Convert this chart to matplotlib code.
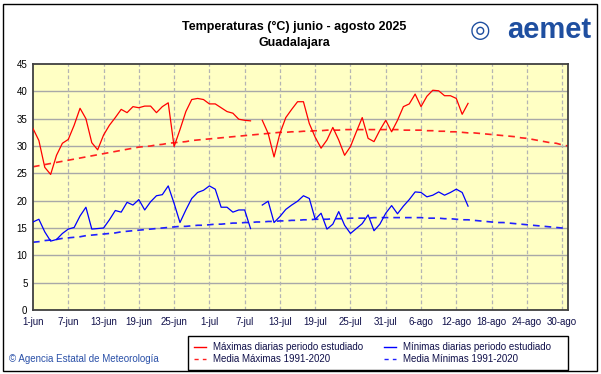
import numpy as np
import matplotlib
matplotlib.use("Agg")
import matplotlib.pyplot as plt
from matplotlib.patches import Rectangle
from matplotlib.lines import Line2D

plt.rcParams['font.family'] = ['Liberation Sans', 'DejaVu Sans']

tick_labels = ['1-jun', '7-jun', '13-jun', '19-jun', '25-jun', '1-jul', '7-jul', '13-jul',
               '19-jul', '25-jul', '31-jul', '6-ago', '12-ago', '18-ago', '24-ago', '30-ago']

max_daily = [33.2, 31.0, 26.1, 24.8, 28.3, 30.5, 31.2, 33.8, 36.9, 35.0,
             30.6, 29.3, 32.0, 33.8, 35.2, 36.7, 36.1, 37.2, 37.0, 37.3,
             37.3, 36.1, 37.2, 37.9, 29.9, 33.0, 36.3, 38.5, 38.7, 38.5,
             37.7, 37.7, 37.0, 36.3, 36.0, 34.9, 34.7, 34.6, np.nan, 34.7,
             32.3, 28.0, 32.3, 35.2, 36.7, 38.1, 38.1, 34.1, 31.6, 29.6,
             31.1, 33.4, 31.1, 28.3, 29.9, 32.6, 35.2, 31.4, 30.8, 32.9,
             34.7, 32.6, 34.7, 37.2, 37.7, 39.5, 37.2, 39.1, 40.2, 40.1,
             39.2, 39.2, 38.7, 35.8, 37.8]

min_daily = [16.1, 16.6, 14.3, 12.6, 12.9, 14.0, 14.8, 15.1, 17.2, 18.8,
             14.8, 14.9, 15.0, 16.5, 18.2, 17.9, 19.7, 19.2, 20.2, 18.3,
             19.8, 20.9, 21.1, 22.7, 19.5, 16.0, 18.3, 20.4, 21.5, 21.9,
             22.7, 22.1, 18.8, 18.8, 17.9, 18.3, 18.3, 14.9, np.nan, 19.2,
             19.9, 16.0, 17.1, 18.4, 19.2, 19.9, 20.9, 20.4, 16.6, 17.7,
             14.8, 15.7, 18.0, 15.5, 14.0, 14.9, 15.8, 17.4, 14.5, 15.7,
             17.7, 19.1, 17.6, 19.0, 20.2, 21.6, 21.5, 20.7, 21.0, 21.6,
             21.0, 21.5, 22.1, 21.5, 19.0]

mean_max = [26.2, 26.4, 26.6, 26.8, 27.0, 27.2, 27.4, 27.6, 27.8, 28.0,
            28.2, 28.4, 28.6, 28.8, 29.0, 29.2, 29.4, 29.6, 29.8, 29.9,
            30.0, 30.2, 30.3, 30.5, 30.6, 30.7, 30.8, 31.0, 31.1, 31.2,
            31.3, 31.4, 31.5, 31.6, 31.7, 31.8, 31.9, 32.0, 32.1, 32.2,
            32.3, 32.4, 32.5, 32.5, 32.6, 32.6, 32.7, 32.7, 32.8, 32.8,
            32.9, 32.9, 32.9, 33.0, 33.0, 33.0, 33.0, 33.0, 33.0, 33.0,
            33.0, 33.0, 33.0, 32.9, 32.9, 32.9, 32.9, 32.8, 32.8, 32.7,
            32.7, 32.6, 32.6, 32.5, 32.4, 32.4, 32.3, 32.2, 32.1, 32.0,
            31.9, 31.8, 31.7, 31.5, 31.4, 31.2, 31.0, 30.8, 30.6, 30.5,
            30.2, 30.0]

mean_min = [12.4, 12.5, 12.7, 12.8, 12.9, 13.1, 13.2, 13.3, 13.4, 13.6,
            13.7, 13.8, 13.9, 14.0, 14.1, 14.3, 14.4, 14.5, 14.6, 14.7,
            14.8, 14.9, 15.0, 15.1, 15.2, 15.3, 15.3, 15.4, 15.5, 15.5,
            15.6, 15.7, 15.7, 15.8, 15.9, 15.9, 16.0, 16.0, 16.1, 16.1,
            16.2, 16.2, 16.3, 16.3, 16.4, 16.4, 16.5, 16.5, 16.6, 16.6,
            16.6, 16.7, 16.7, 16.7, 16.8, 16.8, 16.8, 16.8, 16.9, 16.9,
            16.9, 16.9, 16.9, 16.9, 16.9, 16.9, 16.9, 16.8, 16.8, 16.8,
            16.7, 16.7, 16.6, 16.5, 16.5, 16.4, 16.3, 16.2, 16.1, 16.0,
            16.0, 15.9, 15.8, 15.7, 15.6, 15.5, 15.4, 15.3, 15.2, 15.1,
            15.0, 14.9]

W, H = 601, 374
fig = plt.figure(figsize=(W / 100, H / 100), dpi=100)
fig.patch.set_facecolor('white')

# outer frame
fig.add_artist(Rectangle((3 / W, 3 / H), 594 / W, 367 / H, transform=fig.transFigure,
                         fill=False, edgecolor='black', lw=1.0))

ax_l, ax_r, ax_t, ax_b = 33, 568, 64, 310
ax = fig.add_axes([ax_l / W, 1 - ax_b / H, (ax_r - ax_l) / W, (ax_b - ax_t) / H])
ax.set_facecolor('#ffffc4')

ax.set_xlim(0, 91)
ax.set_ylim(0, 45)
ax.set_yticks(np.arange(0, 46, 5))
ax.set_xticks(np.arange(0, 91, 6))
ax.set_xticklabels(tick_labels)
ax.tick_params(axis='both', length=0, labelsize=7, colors='#10104a', pad=5)
ax.tick_params(axis='y', pad=4)
for lbl in ax.get_yticklabels():
    lbl.set_color('black')

for y in np.arange(5, 45, 5):
    ax.axhline(y, color='#a8a8a8', lw=1.0, zorder=1)
for x in np.arange(6, 91, 6):
    ax.axvline(x, color='#b4b4b4', lw=0.9, ls=(0, (3, 2)), zorder=1)

for s in ax.spines.values():
    s.set_color('#404040')
    s.set_linewidth(1.3)

days_max = np.arange(len(max_daily))
days_min = np.arange(len(min_daily))
days_mean = np.arange(len(mean_max))

ax.plot(days_max, max_daily, color='#ff0000', lw=0.9, zorder=3)
ax.plot(days_min, min_daily, color='#0000ff', lw=0.9, zorder=3)
ax.plot(days_mean, mean_max, color='#ff2020', lw=1.2, ls=(0, (4, 3)), zorder=2)
ax.plot(days_mean, mean_min, color='#2020ff', lw=1.2, ls=(0, (4, 3)), zorder=2)

# titles
fig.text(294 / W, 1 - 27 / H, 'Temperaturas (°C) junio - agosto 2025', ha='center', va='center',
         fontsize=9, fontweight='bold', color='black')
fig.text(294 / W, 1 - 43 / H, 'Guadalajara', ha='center', va='center',
         fontsize=9, fontweight='bold', color='black')

# aemet logo text
fig.text(591 / W, 1 - 30 / H, 'aemet', ha='right', va='center', fontsize=21,
         fontweight='bold', color='#1f4fa0')
fig.text(480 / W, 1 - 30 / H, '◎', ha='center', va='center', fontsize=17,
         fontweight='bold', color='#1f4fa0', family=['DejaVu Sans'])

# legend box
fig.add_artist(Rectangle((188 / W, 1 - 370 / H), 380 / W, 34 / H, transform=fig.transFigure,
                         fill=False, edgecolor='black', lw=1.0))
entries = [
    (194, 347, '#ff0000', '-', 'Máximas diarias periodo estudiado'),
    (194, 359, '#ff2020', (0, (3, 3)), 'Media Máximas 1991-2020'),
    (384, 347, '#0000ff', '-', 'Mínimas diarias periodo estudiado'),
    (384, 359, '#2020ff', (0, (3, 3)), 'Media Mínimas 1991-2020'),
]
for x0, y0, c, ls, txt in entries:
    fig.add_artist(Line2D([x0 / W, (x0 + 12) / W], [1 - y0 / H, 1 - y0 / H],
                          transform=fig.transFigure, color=c, lw=1.0, ls=ls))
    fig.text((x0 + 19) / W, 1 - y0 / H, txt, ha='left', va='center', fontsize=7,
             color='#10104a')

fig.text(9 / W, 1 - 359 / H, '© Agencia Estatal de Meteorología', ha='left', va='center',
         fontsize=7, color='#2a50a8')

fig.savefig('out.png', dpi=100)
